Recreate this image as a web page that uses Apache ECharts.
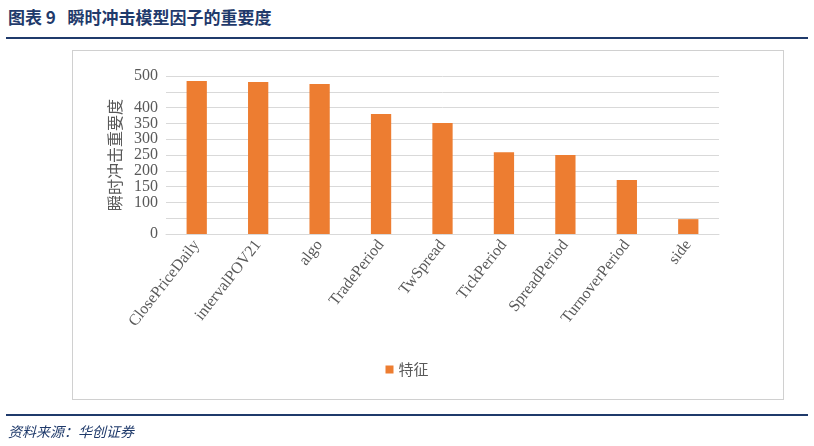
<!DOCTYPE html>
<html><head><meta charset="utf-8">
<script src="https://cdn.jsdelivr.net/npm/echarts@6/dist/echarts.min.js"></script>
<style>
body{margin:0;background:#fff;font-family:"Noto Sans CJK SC";}
#title{position:absolute;left:8px;top:4px;font-size:17px;font-weight:bold;color:#1f3a6b;font-family:"Noto Sans CJK SC";}
#l1{position:absolute;left:6px;top:37px;width:802px;height:2px;background:#1f3a6b;}
#box{position:absolute;left:72px;top:50px;width:710px;height:348px;border:1px solid #d0d0d0;}
#c{position:absolute;left:0;top:0;width:814px;height:446px;}
#l2{position:absolute;left:6px;top:414px;width:802px;height:2px;background:#1f3a6b;}
#src{position:absolute;left:8px;top:421px;font-size:14px;font-style:italic;color:#1f3a6b;}
</style></head><body>
<div id="title">图表 9&nbsp;&nbsp;&nbsp;瞬时冲击模型因子的重要度</div>
<div id="l1"></div><div id="box"></div>
<div id="c"></div>
<div id="l2"></div><div id="src">资料来源：华创证券</div>
<script>
const categories=["ClosePriceDaily","intervalPOV21","algo","TradePeriod","TwSpread","TickPeriod","SpreadPeriod","TurnoverPeriod","side"];
const values=[484,481,475,380,351,259,250,171,47];
const seriesName="特征";
const ch=echarts.init(document.getElementById('c'));
const f="Times New Roman, Liberation Serif, serif";
ch.setOption({
 animation:false,
 grid:{left:166,right:95,top:76,bottom:212},
 legend:{bottom:64,left:'center',itemWidth:8,itemHeight:8,icon:'rect',textStyle:{fontSize:15,color:'#595959',fontFamily:"Noto Sans CJK SC"},data:[seriesName]},
 xAxis:{type:'category',data:categories,axisTick:{show:false},axisLine:{lineStyle:{color:'#d9d9d9'}},
  axisLabel:{rotate:52,interval:0,fontSize:16,color:'#595959',fontFamily:f}},
 yAxis:{type:'value',min:0,max:500,interval:50,name:'瞬时冲击重要度',nameLocation:'middle',nameGap:42,
  nameTextStyle:{fontSize:16,color:'#595959',fontFamily:"Noto Sans CJK SC"},
  axisLabel:{fontSize:16,color:'#595959',fontFamily:f,showMinLabel:true,showMaxLabel:true,hideOverlap:false},splitLine:{lineStyle:{color:'#d9d9d9'}}},
 series:[{name:seriesName,type:'bar',data:values,barWidth:'33%',itemStyle:{color:'#ed7d31'}}]
});
</script></body></html>
